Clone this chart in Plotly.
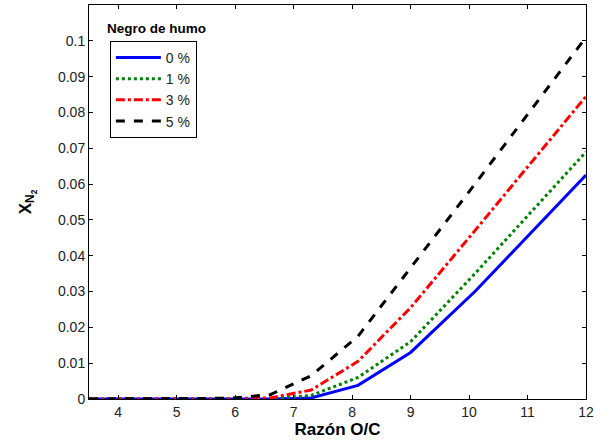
import plotly.graph_objects as go

razon_oc = [3.5, 4.3, 5.1, 5.9, 6.6, 7.3, 8.1, 9.0, 10.1, 12.0]
x_0 = [0, 0, 0, 0, 0, 0.0003, 0.0038, 0.013, 0.030, 0.0625]
x_1 = [0, 0, 0, 0, 0.0001, 0.001, 0.006, 0.016, 0.035, 0.069]
x_3 = [0, 0, 0, 0.0001, 0.0003, 0.0025, 0.0105, 0.0255, 0.047, 0.0845]
x_5 = [0, 0, 0, 0.0002, 0.0012, 0.0065, 0.0175, 0.0365, 0.060, 0.101]
series_names = ["0 %", "1 %", "3 %", "5 %"]
x_ticks = [4, 5, 6, 7, 8, 9, 10, 11, 12]
y_ticks = [0, 0.01, 0.02, 0.03, 0.04, 0.05, 0.06, 0.07, 0.08, 0.09, 0.1]
y_tick_labels = ["0", "0.01", "0.02", "0.03", "0.04", "0.05", "0.06", "0.07", "0.08", "0.09", "0.1"]

styles = [("#0000ff", "solid"), ("#008000", "dot"), ("#ff0000", "dashdot"), ("#000000", "dash")]

fig = go.Figure()
for name, ys, (c, d) in zip(series_names, [x_0, x_1, x_3, x_5], styles):
    fig.add_trace(go.Scatter(x=razon_oc, y=ys, mode="lines", name=name,
                             line=dict(color=c, dash=d, width=3)))

FONT = "Liberation Sans, Arial"
axis_common = dict(showgrid=False, zeroline=False, showline=True, linecolor="black",
                   linewidth=1, ticks="inside", ticklen=4, tickcolor="black",
                   mirror="ticks", tickfont=dict(family=FONT, size=14, color="#222"))

fig.update_layout(
    width=606, height=446,
    margin=dict(l=89, r=20, t=5, b=47),
    paper_bgcolor="white", plot_bgcolor="white",
    xaxis=dict(range=[3.5, 12], tickvals=x_ticks,
               title=dict(text="<b>Razón O/C</b>", font=dict(family=FONT, size=17, color="black"), standoff=3),
               **axis_common),
    yaxis=dict(range=[0, 0.11], tickvals=y_ticks, ticktext=y_tick_labels,
               title=dict(text="<b>X<sub>N<sub>2</sub></sub></b>", font=dict(family=FONT, size=17, color="black"), standoff=22),
               **axis_common),
    legend=dict(x=0.042, y=0.909, xanchor="left", yanchor="top",
                bordercolor="black", borderwidth=1, bgcolor="white",
                itemwidth=45,
                font=dict(family=FONT, size=14, color="#222")),
    showlegend=True,
)
fig.add_annotation(text="<b>Negro de humo</b>", xref="paper", yref="paper",
                   x=0.135, y=0.94, xanchor="center", yanchor="middle", showarrow=False,
                   font=dict(family=FONT, size=13.5, color="black"))

fig.write_html("out.html", config={"displayModeBar": False},
               post_script="document.body.style.margin='0';document.body.style.padding='0';")
